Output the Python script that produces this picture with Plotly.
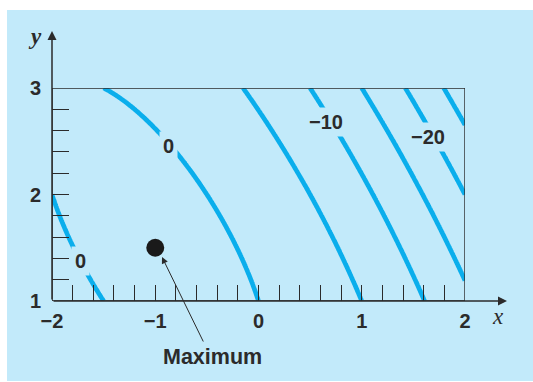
import numpy as np
import plotly.graph_objects as go

# f(x, y) = c0*x + c1*y + c2*x^2 + c3*x*y + c4*y^2
coef_x = -1.0
coef_y = 1.0
coef_xx = -2.0
coef_xy = -2.0
coef_yy = -1.0

levels = [0, -5, -10, -15, -20, -25]
x_range = [-2, 2]
y_range = [1, 3]

label_text = ["0", "0", "\u221210", "\u221220"]
label_x = [-0.87, -1.72, 0.65, 1.64]
label_y = [2.455, 1.376, 2.68, 2.54]

max_x = [-1.0]
max_y = [1.5]

x_ticks = [-2, -1, 0, 1, 2]
y_ticks = [1, 2, 3]

xs = np.linspace(x_range[0], x_range[1], 401)
ys = np.linspace(y_range[0], y_range[1], 301)
X, Y = np.meshgrid(xs, ys)
Z = coef_x * X + coef_y * Y + coef_xx * X**2 + coef_xy * X * Y + coef_yy * Y**2

BG = "#C2EAFA"
LINE = "#0AAEEC"
INK = "#2b2b2b"

# plot-area geometry in window pixels (page margin removed below)
WL, WR, WT, WB = 52, 465, 88, 301
W, H = 533, 382
L, T = WL, WT
PW, PH = WR - WL, WB - WT
R = W - L - PW
B = H - T - PH


def px(xw):
    return (xw - WL) / PW


def py(yw):
    return (WB - yw) / PH


def arrow(head, tail, width, size):
    fig.add_annotation(x=px(head[0]), y=py(head[1]), xref="paper", yref="paper",
                       ax=tail[0] - head[0], ay=tail[1] - head[1],
                       axref="pixel", ayref="pixel",
                       text="", showarrow=True, arrowhead=2, arrowsize=size,
                       arrowwidth=width, arrowcolor=INK)


def label(xw, yw, text, fnt):
    fig.add_annotation(x=px(xw), y=py(yw), xref="paper", yref="paper", text=text,
                       showarrow=False, xanchor="center", yanchor="middle", font=fnt)


fig = go.Figure()
fig.add_trace(go.Contour(
    x=xs, y=ys, z=Z,
    contours=dict(start=min(levels), end=max(levels), size=5, coloring="lines"),
    colorscale=[[0, LINE], [1, LINE]],
    line=dict(width=4.7),
    showscale=False, hoverinfo="skip",
))
fig.add_trace(go.Scatter(
    x=max_x, y=max_y, mode="markers",
    marker=dict(size=18, color="#1a1a1a"), hoverinfo="skip",
))

font = dict(family="Liberation Sans, Arial, sans-serif", size=20, color=INK, weight="bold")

for t, lx, ly in zip(label_text, label_x, label_y):
    fig.add_annotation(x=lx, y=ly, text=t, showarrow=False, xanchor="center",
                       yanchor="middle", font=font, bgcolor=BG, borderpad=3)

# frame
fig.add_shape(type="rect", x0=x_range[0], x1=x_range[1], y0=y_range[0], y1=y_range[1],
              xref="x", yref="y", line=dict(color=INK, width=1.4))

# axis arrows
arrow((507, 301), (52, 301), 1.5, 1.2)
arrow((52, 31), (52, 301), 1.5, 1.2)

# axis names
serif = dict(family="Liberation Serif, serif", size=23, color=INK)
label(498, 316, "<i>x</i>", serif)
label(35, 36, "<i><b>y</b></i>", serif)

# Maximum pointer
arrow((162, 257), (204, 343), 1, 1.3)
label(212, 357, "Maximum", dict(font, size=21.5))

tickfont = dict(family="Liberation Sans, Arial, sans-serif", size=20, color=INK, weight="bold")
fig.update_xaxes(range=x_range, tickvals=x_ticks,
                 ticktext=[str(v).replace("-", "\u2212") for v in x_ticks],
                 ticks="inside", ticklen=16, tickwidth=1.4, tickcolor=INK,
                 minor=dict(dtick=0.2, ticks="inside", ticklen=16, tickwidth=1.4, tickcolor=INK),
                 showgrid=False, zeroline=False, showline=False, automargin=False,
                 tickfont=tickfont, ticklabelstandoff=6)
fig.update_yaxes(range=y_range, tickvals=y_ticks, ticktext=[str(v) for v in y_ticks],
                 ticks="inside", ticklen=17, tickwidth=1.4, tickcolor=INK,
                 minor=dict(dtick=0.2, ticks="inside", ticklen=17, tickwidth=1.4, tickcolor=INK),
                 showgrid=False, zeroline=False, showline=False, automargin=False,
                 tickfont=tickfont, ticklabelstandoff=10)

fig.add_shape(type="rect", xref="paper", yref="paper",
              x0=px(7), x1=px(533), y0=py(381), y1=py(10),
              fillcolor=BG, line=dict(width=0), layer="below")

fig.update_layout(width=W, height=H, margin=dict(l=L, r=R, t=T, b=B, autoexpand=False),
                  paper_bgcolor="white", plot_bgcolor=BG, showlegend=False)

fig.write_html("out.html", config={"displayModeBar": False},
               post_script="document.body.style.margin='0';document.body.style.overflow='hidden';")
